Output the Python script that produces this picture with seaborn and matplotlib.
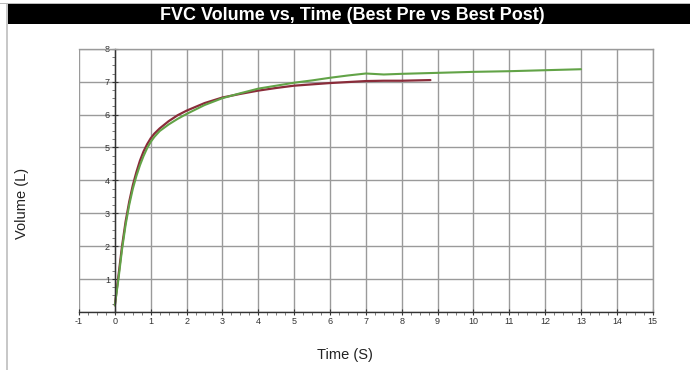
import numpy as np
import pandas as pd
import seaborn as sns
import matplotlib.pyplot as plt
from matplotlib.patches import Rectangle
from matplotlib.ticker import MultipleLocator

# Best post curve (green)
post_t = [0, 0.05, 0.1, 0.15, 0.2, 0.3, 0.4, 0.5, 0.6, 0.7, 0.8, 0.9, 1.0, 1.1, 1.25, 1.5, 1.75,
          2.0, 2.5, 3.0, 3.5, 4.0, 4.5, 5.0, 5.5, 6.0, 6.5, 7.0, 7.5, 8.0, 9.0, 10.0, 11.0, 12.0, 13.0]
post_v = [0.2, 0.6, 1.0, 1.45, 1.9, 2.65, 3.25, 3.74, 4.13, 4.46, 4.74, 4.98, 5.17, 5.32, 5.5, 5.7, 5.87,
          6.02, 6.29, 6.5, 6.65, 6.79, 6.88, 6.97, 7.04, 7.12, 7.19, 7.25, 7.22, 7.24, 7.27, 7.3, 7.32, 7.35, 7.38]

# Best pre curve (red)
pre_t = [0, 0.05, 0.1, 0.15, 0.2, 0.3, 0.4, 0.5, 0.6, 0.7, 0.8, 0.9, 1.0, 1.1, 1.25, 1.5, 1.75,
         2.0, 2.5, 3.0, 3.5, 4.0, 4.5, 5.0, 5.5, 6.0, 6.5, 7.0, 7.5, 8.0, 8.8]
pre_v = [0.2, 0.65, 1.1, 1.55, 2.0, 2.75, 3.35, 3.85, 4.25, 4.6, 4.88, 5.1, 5.28, 5.42, 5.58, 5.8, 5.98,
         6.12, 6.35, 6.52, 6.63, 6.73, 6.81, 6.88, 6.92, 6.96, 6.99, 7.02, 7.03, 7.03, 7.05]

x_ticks = list(range(-1, 16))
y_ticks = list(range(0, 9))

title = "FVC Volume vs, Time (Best Pre vs Best Post)"

sns.set_style("white")
plt.rcParams['font.family'] = ['Liberation Sans', 'DejaVu Sans']

fig = plt.figure(figsize=(6.9, 3.7), dpi=100)
ax = fig.add_axes([0.1145, 0.157, 0.8315, 0.711])

pre_df = pd.DataFrame({'t': pre_t, 'v': pre_v})
post_df = pd.DataFrame({'t': post_t, 'v': post_v})
sns.lineplot(data=pre_df, x='t', y='v', ax=ax, color='#8a2c3a', lw=1.6, sort=False, estimator=None)
sns.lineplot(data=post_df, x='t', y='v', ax=ax, color='#62a347', lw=1.5, sort=False, estimator=None)

ax.set_xlim(-1, 15)
ax.set_ylim(0, 8)
ax.set_xticks(x_ticks)
ax.set_yticks(y_ticks)
ax.xaxis.set_minor_locator(MultipleLocator(0.25))
ax.yaxis.set_minor_locator(MultipleLocator(0.25))
ax.grid(True, which='major', color='#9a9a9a', lw=1)
ax.set_axisbelow(True)

ax.spines['left'].set_position(('data', 0))
ax.spines['left'].set_color('#333333')
ax.spines['bottom'].set_color('#333333')
ax.spines['top'].set_color('#9a9a9a')
ax.spines['right'].set_color('#9a9a9a')
for s in ax.spines.values():
    s.set_linewidth(1)

ax.tick_params(axis='both', which='major', direction='inout', length=5, width=0.8,
               labelsize=6.5, colors='#333333', pad=1, left=True, bottom=True)
ax.tick_params(axis='both', which='minor', direction='out', length=2, width=0.6,
               colors='#666666', left=True, bottom=True)
ax.set_xticklabels([str(t) for t in x_ticks])
ax.set_yticklabels(['' if t == 0 else str(t) for t in y_ticks])

ax.set_xlabel('')
ax.set_ylabel('')
fig.text(0.5, 1 - 355 / 370, 'Time (S)', ha='center', va='center', fontsize=10.5, color='#222222')
fig.text(22 / 690, 1 - 203 / 370, 'Volume (L)', ha='center', va='center', rotation=90,
         fontsize=10.5, color='#222222')

# title bar and frame
fig.patches.append(Rectangle((6 / 690, 1 - 24 / 370), 1, 20 / 370, transform=fig.transFigure,
                             facecolor='black', edgecolor='none'))
fig.patches.append(Rectangle((0, 1 - 4 / 370), 1, 1 / 370, transform=fig.transFigure,
                             facecolor='#bbbbbb', edgecolor='none'))
fig.patches.append(Rectangle((6 / 690, 0), 1.5 / 690, 1 - 4 / 370, transform=fig.transFigure,
                             facecolor='#c8c8c8', edgecolor='none'))
fig.text(352 / 690, 1 - 15 / 370, title, ha='center', va='center', color='white',
         fontsize=13, fontweight='bold')

fig.savefig('out.png', dpi=100)
